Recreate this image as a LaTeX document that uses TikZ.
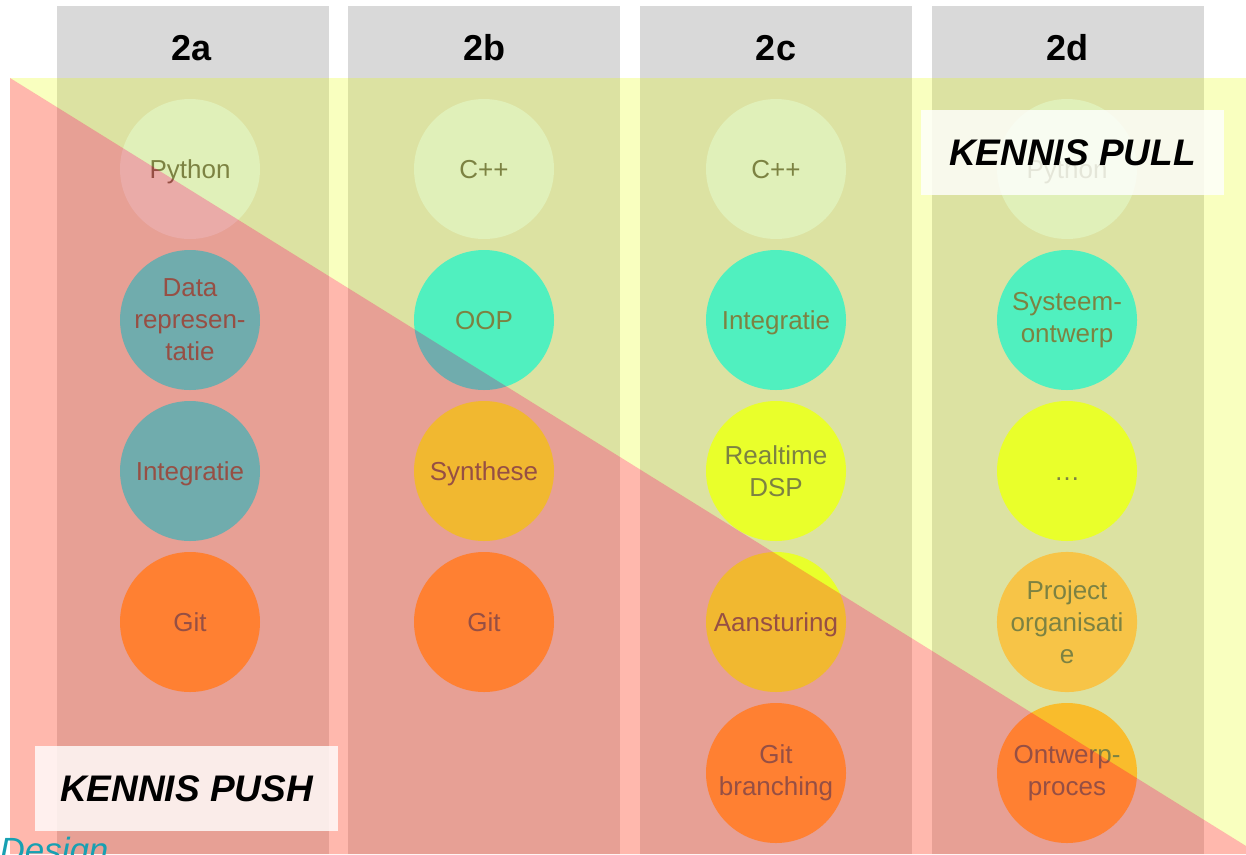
\documentclass[tikz,border=0pt]{standalone}
\usepackage{fontspec}
\setmainfont{Liberation Sans}
\usepackage{tikz}
\usetikzlibrary{positioning}
\definecolor{kGray}{HTML}{D9D9D9}
\definecolor{kText}{HTML}{595959}
\definecolor{kLight}{RGB}{222,235,247}
\definecolor{kCyan}{RGB}{30,236,255}
\definecolor{kYellow}{RGB}{234,255,58}
\definecolor{kOrange}{RGB}{255,166,60}
\definecolor{kPeach}{RGB}{253,177,96}
\definecolor{kPull}{RGB}{232,255,0}
\definecolor{kPush}{RGB}{255,63,33}
\definecolor{kDesign}{RGB}{23,160,178}
\tikzset{k/.style={circle, inner sep=0pt, minimum size=140pt, text=kText,
  align=center, font=\fontsize{26}{32}\selectfont}}
\tikzset{one/.style={text height=19pt, text depth=0pt}}
\tikzset{kl/.style={k, fill=kLight}}
\tikzset{kc/.style={k, fill=kCyan}}
\tikzset{ky/.style={k, fill=kYellow}}
\tikzset{ko/.style={k, fill=kOrange}}
\tikzset{kp/.style={k, fill=kPeach}}
\tikzset{hd/.style={font=\fontsize{36}{40}\selectfont\bfseries}}
\tikzset{kb/.style={fill=white, fill opacity=0.8, text opacity=1,
  inner sep=0pt, minimum width=303pt, minimum height=85pt,
  font=\fontsize{37}{42}\selectfont\bfseries\itshape}}

\begin{document}
\begin{tikzpicture}[x=1pt, y=-1pt]
  \clip (0,0) rectangle (1246,854);
  \fill[white] (0,0) rectangle (1246,854);
  %%
  \foreach \x in {57,348,640,932}
    \fill[kGray] (\x,6) rectangle ++(272,848);
  \node (ha) at (192,48) [hd] {2a};
  \node (hb) at (484,48) [hd] {2b};
  \node (hc) at (776,48) [hd] {2c};
  \node (hd) at (1067,48) [hd] {2d};
  %%
  \node (a1) at (190,169) [kl, one] {Python};
  \node (a2) at (190,320) [kc] {Data\\represen-\\tatie};
  \node (a3) at (190,471) [kc, one] {Integratie};
  \node (a4) at (190,622) [ko, one] {Git};
  %%
  \node (b1) at (484,169) [kl, one] {C++};
  \node (b2) at (484,320) [kc, one] {OOP};
  \node (b3) at (484,471) [ky, one] {Synthese};
  \node (b4) at (484,622) [ko, one] {Git};
  %%
  \node (c1) at (776,169) [kl, one] {C++};
  \node (c2) at (776,320) [kc, one] {Integratie};
  \node (c3) at (776,471) [ky] {Realtime\\DSP};
  \node (c4) at (776,622) [ky, one] {Aansturing};
  \node (c5) at (776,773) [ko] {Git\\branching};
  %%
  \node (d1) at (1067,169) [kl, one] {Python};
  \node (d2) at (1067,320) [kc] {Systeem-\\ontwerp};
  \node (d3) at (1067,471) [ky, one] {…};
  \node (d4) at (1067,622) [kp] {Project\\organisati\\e};
  \node (d5) at (1067,773) [ko] {Ontwerp-\\proces};
  %%
  \fill[kPull, opacity=0.25] (10,78) -- (1246,78) -- (1246,846) -- cycle;
  \fill[kPush, opacity=0.37] (10,78) -- (1246,846) -- (1246,854) -- (10,854) -- cycle;
  %%
  \node (pull) at (1072.5,152.5) [kb] {KENNIS PULL};
  \node (push) at (186.5,788.5) [kb] {KENNIS PUSH};
  \node (design) at (-4,862) [anchor=base west, text=kDesign,
    font=\fontsize{35}{40}\selectfont\itshape] {Design};
\end{tikzpicture}
\end{document}
